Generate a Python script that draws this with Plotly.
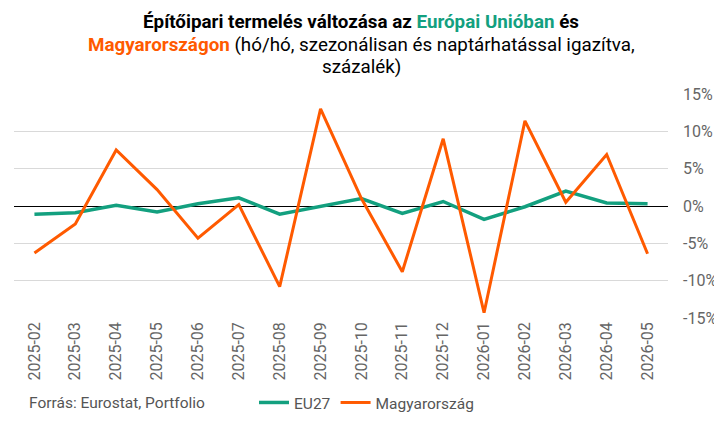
import plotly.graph_objects as go

# monthly data, % change month over month
months = ['2025-02', '2025-03', '2025-04', '2025-05', '2025-06', '2025-07',
          '2025-08', '2025-09', '2025-10', '2025-11', '2025-12', '2026-01',
          '2026-02', '2026-03', '2026-04', '2026-05']
eu27 = [-1.1, -0.9, 0.1, -0.8, 0.3, 1.1, -1.1, -0.1, 1.0, -1.0, 0.6, -1.8,
        -0.1, 2.0, 0.4, 0.3]
hungary = [-6.3, -2.4, 7.5, 2.2, -4.3, 0.2, -10.8, 13.0, 1.0, -8.8, 9.0, -14.3,
           11.4, 0.5, 6.9, -6.4]
y_ticks = [-15, -10, -5, 0, 5, 10, 15]
y_labels = ['%d%%' % v for v in y_ticks]

green = '#13a07f'
orange = '#ff5a00'

data = [
    go.Scatter(x=months, y=eu27, name='EU27', mode='lines',
               line=dict(color=green, width=3.5)),
    go.Scatter(x=months, y=hungary, name='Magyarország', mode='lines',
               line=dict(color=orange, width=3)),
]

# title, one annotation per line
title_lines = [
    "<b>Építőipari termelés változása az "
    "<span style='color:%s'>Európai Unióban</span> és</b>" % green,
    "<b><span style='color:%s'>Magyarországon</span></b> "
    "(hó/hó, szezonálisan és naptárhatással igazítva," % orange,
    "százalék)",
]
title_y = [1.321, 1.219, 1.121]

annotations = [dict(text=t, showarrow=False, xref='paper', yref='paper',
                    x=0.5306, xanchor='center', y=y, yanchor='middle',
                    font=dict(family='Roboto', size=18.8, color='black'))
               for t, y in zip(title_lines, title_y)]
annotations.append(dict(text='Forrás: Eurostat, Portfolio', showarrow=False,
                        xref='paper', yref='paper', x=0.02, xanchor='left',
                        y=-0.379, yanchor='middle',
                        font=dict(size=15.5, color='#555555')))

# page has an 8px body margin, so the figure is 8px smaller
layout = go.Layout(
    width=714, height=416,
    paper_bgcolor='white', plot_bgcolor='white',
    font=dict(family='Roboto', size=15.5, color='#555555'),
    margin=dict(l=6, r=54, t=86, b=106, autoexpand=False),
    xaxis=dict(type='category', range=[-0.5, 15.5], tickangle=-90,
               showgrid=False, showline=False, ticks='', automargin=False,
               tickfont=dict(size=16, color='#666666')),
    yaxis=dict(side='right', range=[-15, 15], tickvals=y_ticks,
               ticktext=y_labels, showgrid=True, gridcolor='#d9d9d9',
               gridwidth=1, zeroline=True, zerolinecolor='black',
               zerolinewidth=1.3, ticklabelstandoff=14, automargin=False,
               tickfont=dict(size=16, color='#666666')),
    showlegend=True,
    legend=dict(orientation='h', x=0.367, xanchor='left',
                y=-0.379, yanchor='middle',
                font=dict(size=15.5, color='#555555'),
                bgcolor='rgba(0,0,0,0)'),
    annotations=annotations,
    hovermode='x unified',
)

fig = go.Figure(data=data, layout=layout)
fig.write_html('out.html')
